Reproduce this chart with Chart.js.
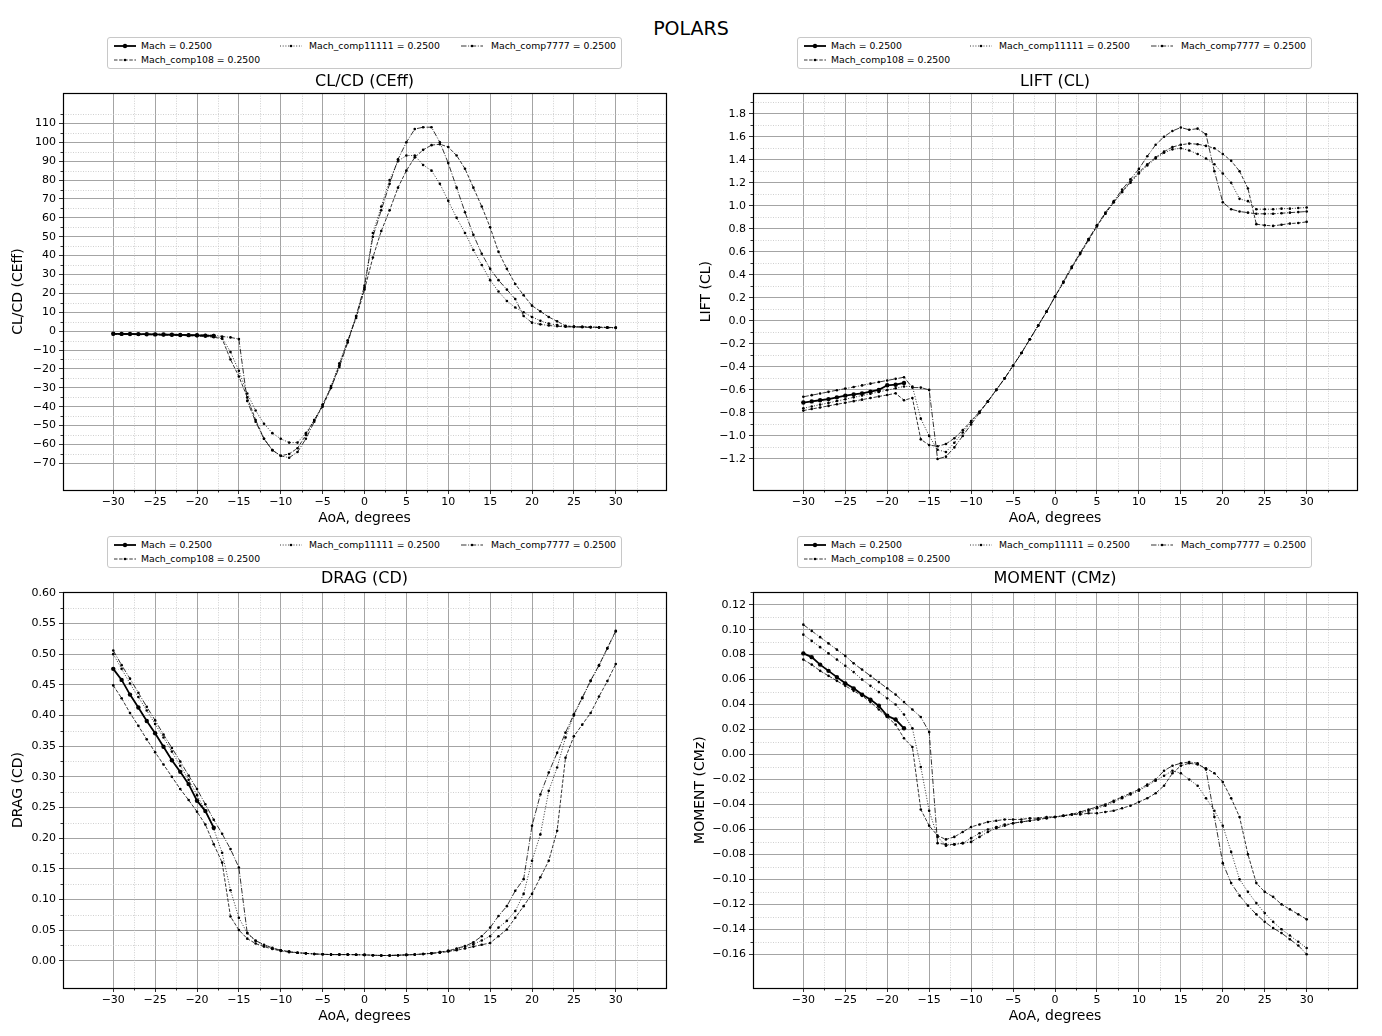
<!DOCTYPE html>
<html><head><meta charset="utf-8">
<script src="https://cdn.jsdelivr.net/npm/chart.js@4"></script>
<style>
body{margin:0;background:#fff;width:1382px;height:1036px;position:relative;overflow:hidden;font-family:"DejaVu Sans",sans-serif;color:#000;}
#mainTitle{position:absolute;left:0;width:1382px;top:16px;text-align:center;font-size:19px;line-height:24px;}
canvas{position:absolute;}
.legend{position:absolute;border:1px solid #c8c8c8;border-radius:3px;width:513px;height:30px;font-size:9.3px;background:#fff;z-index:5;}
.item{position:absolute;height:12px;display:flex;align-items:center;white-space:nowrap;}
.item svg{position:absolute;top:1px;}
.item span{position:absolute;top:0;line-height:12px;}
</style>
</head><body>
<div id="mainTitle">POLARS</div>
<canvas id="cTL" width="690" height="461" style="left:0;top:69px;width:690px;height:461px"></canvas>
<canvas id="cTR" width="692" height="461" style="left:690px;top:69px;width:692px;height:461px"></canvas>
<canvas id="cBL" width="690" height="460" style="left:0;top:568px;width:690px;height:460px"></canvas>
<canvas id="cBR" width="692" height="460" style="left:690px;top:568px;width:692px;height:460px"></canvas>
<div class="legend" id="lgTL" style="left:107px;top:37px"></div>
<div class="legend" id="lgTR" style="left:797px;top:37px"></div>
<div class="legend" id="lgBL" style="left:107px;top:536px"></div>
<div class="legend" id="lgBR" style="left:797px;top:536px"></div>
<script>
// ---------- DATA ----------
const aoa = [-30,-29,-28,-27,-26,-25,-24,-23,-22,-21,-20,-19,-18,-17,-16,-15,-14,-13,-12,-11,-10,-9,-8,-7,-6,-5,-4,-3,-2,-1,
  0,1,2,3,4,5,6,7,8,9,10,11,12,13,14,15,16,17,18,19,20,21,22,23,24,25,26,27,28,29,30];
const aoaMach = [-30,-29,-28,-27,-26,-25,-24,-23,-22,-21,-20,-19,-18];
const seriesNames = ['Mach = 0.2500','Mach_comp108 = 0.2500','Mach_comp11111 = 0.2500','Mach_comp7777 = 0.2500'];

const aoaTicks = [-30,-25,-20,-15,-10,-5,0,5,10,15,20,25,30];
const ceffTicks = [-70,-60,-50,-40,-30,-20,-10,0,10,20,30,40,50,60,70,80,90,100,110];
const liftTicks = [-1.2,-1.0,-0.8,-0.6,-0.4,-0.2,0.0,0.2,0.4,0.6,0.8,1.0,1.2,1.4,1.6,1.8];
const dragTicks = [0.00,0.05,0.10,0.15,0.20,0.25,0.30,0.35,0.40,0.45,0.50,0.55,0.60];
const mzTicks = [-0.16,-0.14,-0.12,-0.10,-0.08,-0.06,-0.04,-0.02,0.00,0.02,0.04,0.06,0.08,0.10,0.12];

// CL/CD (CEff)
const ceffMach = [-1.4,-1.45,-1.5,-1.55,-1.6,-1.7,-1.8,-1.9,-2.0,-2.1,-2.2,-2.35,-2.5];
const ceffComp108 = [-1.7,-1.75,-1.8,-1.85,-1.9,-2.0,-2.1,-2.2,-2.3,-2.4,-2.6,-2.8,-3.2,
  -4,-15,-24,-35,-47,-57,-63,-66,-65,-62,-55,-47,-40,-30,-18,-5,7,
  22,39,53,64,76,85,92,96,98.5,99,97.5,93,86,76,66,55,42,33,25,19,13.5,10.5,7.5,5.2,2.8,2.4,2.3,2.2,2.1,2.0,1.9];
const ceffComp11111 = [-1.5,-1.55,-1.6,-1.65,-1.7,-1.8,-1.9,-2.0,-2.1,-2.2,-2.4,-2.6,-2.85,
  -3.5,-11,-21,-33,-42,-49,-54,-57,-59,-59,-54,-47,-39,-29,-17,-5,8,
  23,52,66,80,90,93,93,88,85,78,69,60,52,43,35,27,21,16,12.5,10,7.5,5.5,4,3.2,2.6,2.4,2.3,2.2,2.1,2.0,1.9];
const ceffComp7777 = [-1.3,-1.35,-1.4,-1.45,-1.5,-1.55,-1.6,-1.7,-1.8,-1.85,-1.9,-2.0,-2.1,
  -2.8,-3.3,-4.2,-37,-48,-57,-63,-66,-67,-64,-57,-48,-39,-30,-19,-6,8,
  24,50,64,78,91,100,107,108,108,100,89,76,63,51,41,33,27,22,17,8,4.5,3.6,3.0,2.6,2.3,2.2,2.1,2.0,1.9,1.8,1.7];

// LIFT (CL)
const liftMach = [-0.71,-0.70,-0.69,-0.68,-0.665,-0.65,-0.64,-0.63,-0.615,-0.60,-0.56,-0.555,-0.54];
const liftComp108 = [-0.78,-0.766,-0.753,-0.739,-0.725,-0.712,-0.698,-0.685,-0.671,-0.657,-0.644,-0.63,-0.69,
  -0.67,-1.03,-1.08,-1.09,-1.07,-1.02,-0.95,-0.87,-0.79,-0.70,-0.60,-0.50,-0.39,-0.28,-0.16,-0.04,0.08,
  0.21,0.33,0.46,0.58,0.70,0.82,0.93,1.03,1.12,1.21,1.29,1.36,1.42,1.47,1.51,1.53,1.54,1.535,1.52,1.50,1.45,1.39,1.30,1.15,0.84,0.83,0.825,0.835,0.845,0.85,0.86];
const liftComp11111 = [-0.76,-0.744,-0.728,-0.713,-0.697,-0.681,-0.665,-0.649,-0.633,-0.618,-0.602,-0.586,-0.57,
  -0.57,-0.85,-1.00,-1.12,-1.14,-1.06,-0.97,-0.88,-0.79,-0.70,-0.60,-0.50,-0.39,-0.28,-0.16,-0.04,0.08,
  0.21,0.34,0.47,0.59,0.71,0.83,0.93,1.03,1.12,1.20,1.28,1.35,1.41,1.46,1.49,1.50,1.48,1.45,1.41,1.36,1.28,1.20,1.06,1.04,0.97,0.97,0.97,0.975,0.975,0.98,0.985];
const liftComp7777 = [-0.66,-0.646,-0.632,-0.617,-0.603,-0.589,-0.575,-0.561,-0.546,-0.532,-0.518,-0.504,-0.49,
  -0.58,-0.58,-0.60,-1.20,-1.18,-1.10,-1.00,-0.90,-0.80,-0.70,-0.60,-0.50,-0.39,-0.28,-0.16,-0.04,0.08,
  0.21,0.34,0.47,0.59,0.71,0.83,0.94,1.04,1.14,1.23,1.32,1.43,1.53,1.60,1.65,1.68,1.66,1.67,1.62,1.30,1.03,0.97,0.95,0.94,0.93,0.93,0.93,0.935,0.94,0.945,0.95];

// DRAG (CD)
const dragMach = [0.476,0.458,0.434,0.413,0.391,0.371,0.349,0.327,0.308,0.288,0.261,0.244,0.217];
const dragComp108 = [0.449,0.428,0.404,0.383,0.361,0.340,0.320,0.300,0.280,0.262,0.243,0.222,0.190,
  0.160,0.072,0.050,0.036,0.028,0.023,0.019,0.016,0.014,0.013,0.012,0.011,0.0105,0.010,0.010,0.010,0.0098,
  0.0095,0.009,0.0085,0.0085,0.009,0.0095,0.010,0.011,0.012,0.013,0.015,0.017,0.020,0.023,0.026,0.029,0.040,0.051,0.070,0.089,0.109,0.136,0.163,0.212,0.331,0.366,0.385,0.404,0.431,0.456,0.484];
const dragComp11111 = [0.500,0.476,0.452,0.430,0.408,0.386,0.364,0.341,0.318,0.295,0.270,0.245,0.215,
  0.176,0.115,0.070,0.045,0.032,0.025,0.020,0.017,0.015,0.013,0.012,0.011,0.0105,0.010,0.010,0.010,0.0098,
  0.0095,0.009,0.0085,0.0085,0.009,0.0095,0.010,0.011,0.012,0.014,0.016,0.019,0.023,0.027,0.033,0.040,0.054,0.065,0.081,0.109,0.163,0.206,0.277,0.315,0.364,0.400,0.428,0.456,0.481,0.509,0.537];
const dragComp7777 = [0.506,0.482,0.460,0.437,0.414,0.392,0.369,0.347,0.325,0.302,0.280,0.255,0.230,
  0.207,0.182,0.152,0.045,0.033,0.026,0.021,0.017,0.015,0.013,0.012,0.011,0.0105,0.010,0.010,0.010,0.0098,
  0.0095,0.009,0.0085,0.0085,0.009,0.0095,0.010,0.011,0.012,0.014,0.016,0.020,0.024,0.030,0.040,0.054,0.073,0.089,0.114,0.133,0.220,0.271,0.307,0.339,0.372,0.402,0.429,0.457,0.482,0.510,0.538];

// MOMENT (CMz)
const mzMach = [0.081,0.078,0.072,0.067,0.062,0.057,0.053,0.048,0.044,0.039,0.031,0.028,0.021];
const mzComp108 = [0.076,0.072,0.067,0.063,0.059,0.055,0.051,0.047,0.042,0.036,0.030,0.024,0.013,
  0.006,-0.044,-0.057,-0.065,-0.068,-0.066,-0.062,-0.058,-0.056,-0.054,-0.053,-0.052,-0.052,-0.052,-0.051,-0.051,-0.050,
  -0.050,-0.049,-0.048,-0.048,-0.047,-0.047,-0.046,-0.045,-0.043,-0.041,-0.038,-0.035,-0.031,-0.025,-0.015,-0.009,-0.007,-0.008,-0.011,-0.015,-0.022,-0.035,-0.050,-0.080,-0.103,-0.110,-0.114,-0.120,-0.124,-0.128,-0.132];
const mzComp11111 = [0.096,0.091,0.086,0.081,0.076,0.071,0.066,0.060,0.055,0.050,0.045,0.040,0.032,
  0.021,-0.010,-0.045,-0.066,-0.073,-0.072,-0.071,-0.067,-0.063,-0.060,-0.058,-0.056,-0.055,-0.054,-0.053,-0.052,-0.051,
  -0.050,-0.049,-0.048,-0.047,-0.045,-0.043,-0.041,-0.038,-0.035,-0.032,-0.029,-0.025,-0.021,-0.017,-0.013,-0.015,-0.020,-0.025,-0.035,-0.045,-0.057,-0.078,-0.100,-0.110,-0.119,-0.127,-0.134,-0.140,-0.145,-0.150,-0.155];
const mzComp7777 = [0.104,0.099,0.094,0.089,0.084,0.079,0.073,0.068,0.063,0.058,0.053,0.048,0.042,
  0.036,0.030,0.018,-0.071,-0.072,-0.072,-0.071,-0.070,-0.066,-0.062,-0.059,-0.057,-0.055,-0.054,-0.053,-0.052,-0.051,
  -0.050,-0.049,-0.048,-0.046,-0.044,-0.042,-0.040,-0.037,-0.034,-0.031,-0.028,-0.024,-0.020,-0.013,-0.009,-0.007,-0.006,-0.007,-0.012,-0.050,-0.087,-0.103,-0.113,-0.121,-0.128,-0.134,-0.139,-0.143,-0.148,-0.153,-0.160];

// ---------- STYLE ----------
const FONT = '"DejaVu Sans", sans-serif';
Chart.defaults.font.family = FONT;
Chart.defaults.color = '#000';
const lineStyles = [
  {width:1.8, dash:[], r:2.2},          // Mach: solid
  {width:0.8, dash:[3.5,1.6], r:1.3},   // comp108: dashed
  {width:0.8, dash:[1,1.7], r:1.3},     // comp11111: dotted
  {width:0.8, dash:[5.5,1.6,1,1.6], r:1.3} // comp7777: dash-dot
];

function minorFrom(major){ const s = major[1]-major[0]; return major.map(v => v + s/2); }
function fmt(v, dec){ const s = Math.abs(v) < 1e-9 ? (0).toFixed(dec) : v.toFixed(dec); return s.replace('-', '\u2212'); }

const minorPlugin = {
  id:'minorGrid',
  beforeDatasetsDraw(chart, args, o){
    const {ctx, chartArea:a, scales:{x,y}} = chart;
    ctx.save();
    ctx.strokeStyle = '#c4c4c4'; ctx.lineWidth = 0.8; ctx.setLineDash([1,1.5]);
    o.xm.forEach(v=>{ const p = Math.round(x.getPixelForValue(v))+0.5; if(p>a.left&&p<a.right){ctx.beginPath();ctx.moveTo(p,a.top);ctx.lineTo(p,a.bottom);ctx.stroke();}});
    o.ym.forEach(v=>{ const p = Math.round(y.getPixelForValue(v))+0.5; if(p>a.top&&p<a.bottom){ctx.beginPath();ctx.moveTo(a.left,p);ctx.lineTo(a.right,p);ctx.stroke();}});
    ctx.setLineDash([]); ctx.strokeStyle='#000'; ctx.lineWidth=0.8;
    o.xm.forEach(v=>{ const p = Math.round(x.getPixelForValue(v))+0.5; if(p>a.left&&p<a.right){ctx.beginPath();ctx.moveTo(p,a.bottom);ctx.lineTo(p,a.bottom+2.5);ctx.stroke();}});
    o.ym.forEach(v=>{ const p = Math.round(y.getPixelForValue(v))+0.5; if(p>a.top&&p<a.bottom){ctx.beginPath();ctx.moveTo(a.left,p);ctx.lineTo(a.left-2.5,p);ctx.stroke();}});
    ctx.restore();
  },
  afterDatasetsDraw(chart){
    const {ctx, chartArea:a} = chart;
    ctx.save(); ctx.strokeStyle='#000'; ctx.lineWidth=1.2;
    ctx.strokeRect(Math.round(a.left)+0.5, Math.round(a.top)+0.5, Math.round(a.right-a.left), Math.round(a.bottom-a.top));
    ctx.restore();
  }
};

function build(id, title, ylab, ymin, ymax, yTicks, dec, series, padRight, yTitlePad, tPad){
  const datasets = series.map((vals, i) => {
    const xs = i === 0 ? aoaMach : aoa;
    const st = lineStyles[i];
    return {
      label: seriesNames[i],
      data: xs.map((a, k) => ({x:a, y:vals[k]})),
      borderColor:'#000', backgroundColor:'#000', borderWidth:st.width, borderDash:st.dash,
      pointRadius:st.r, pointBorderWidth:0, pointBackgroundColor:'#000', pointHoverRadius:st.r,
      tension:0, fill:false
    };
  });
  return new Chart(document.getElementById(id), {
    type:'line',
    data:{datasets},
    plugins:[minorPlugin],
    options:{
      responsive:false, animation:false, devicePixelRatio:1,
      layout:{padding:{left:0,right:padRight,top:0,bottom:0}},
      plugins:{
        legend:{display:false}, tooltip:{enabled:false},
        title:{display:true, fullSize:false, text:title, color:'#000', font:{size:16, weight:'normal', family:FONT}, padding:{top:tPad[0], bottom:tPad[1]}},
        minorGrid:{xm:minorFrom(aoaTicks), ym:minorFrom(yTicks)}
      },
      scales:{
        x:{type:'linear', min:-36, max:36,
          afterBuildTicks(s){ s.ticks = aoaTicks.map(v=>({value:v})); },
          afterFit(s){ s.height = 40; },
          ticks:{autoSkip:false, maxRotation:0, padding:2, color:'#000', font:{size:11}, callback:(v)=>fmt(v,0)},
          grid:{color:'#9a9a9a', lineWidth:0.9, tickColor:'#000', tickLength:4, tickWidth:0.8},
          border:{color:'#000', width:1},
          title:{display:true, text:'AoA, degrees', color:'#000', font:{size:14}, padding:{top:0,bottom:3}}
        },
        y:{type:'linear', min:ymin, max:ymax,
          afterBuildTicks(s){ s.ticks = yTicks.map(v=>({value:v})); },
          afterFit(s){ s.width = 63; },
          ticks:{autoSkip:false, padding:3, color:'#000', font:{size:11}, callback:(v)=>fmt(v,dec)},
          grid:{color:'#9a9a9a', lineWidth:0.9, tickColor:'#000', tickLength:4, tickWidth:0.8},
          border:{color:'#000', width:1},
          title:{display:true, text:ylab, color:'#000', font:{size:14}, padding:{top:yTitlePad,bottom:0}}
        }
      }
    }
  });
}

build('cTL','CL/CD (CEff)','CL/CD (CEff)', -84.1, 126.0, ceffTicks, 0,
  [ceffMach, ceffComp108, ceffComp11111, ceffComp7777], 24, 10, [3,2]);
build('cTR','LIFT (CL)','LIFT (CL)', -1.47, 1.978, liftTicks, 1,
  [liftMach, liftComp108, liftComp11111, liftComp7777], 25, 8, [3,2]);
build('cBL','DRAG (CD)','DRAG (CD)', -0.0445, 0.601, dragTicks, 2,
  [dragMach, dragComp108, dragComp11111, dragComp7777], 24, 10, [1,4]);
build('cBR','MOMENT (CMz)','MOMENT (CMz)', -0.187, 0.130, mzTicks, 2,
  [mzMach, mzComp108, mzComp11111, mzComp7777], 25, 2, [1,4]);

// ---------- LEGENDS ----------
const legendPos = [[5,33,2],[5,33,16],[171,201,2],[352,383,2]]; // handleLeft, textLeft, top
function handleSvg(i){
  const st = lineStyles[i];
  const dash = st.dash.length ? `stroke-dasharray="${st.dash.join(',')}"` : '';
  return `<svg width="24" height="10" style="left:0"><line x1="1" y1="5" x2="23" y2="5" stroke="#000" stroke-width="${st.width}" ${dash}/><circle cx="12" cy="5" r="${st.r}" fill="#000"/></svg>`;
}
['lgTL','lgTR','lgBL','lgBR'].forEach(id=>{
  const el = document.getElementById(id);
  seriesNames.forEach((n,i)=>{
    const [hl, tl, t] = legendPos[i];
    const d = document.createElement('div');
    d.className='item'; d.style.left = hl+'px'; d.style.top = t+'px';
    d.innerHTML = handleSvg(i) + `<span style="left:${tl-hl}px">${n}</span>`;
    el.appendChild(d);
  });
});
</script>
</body></html>
